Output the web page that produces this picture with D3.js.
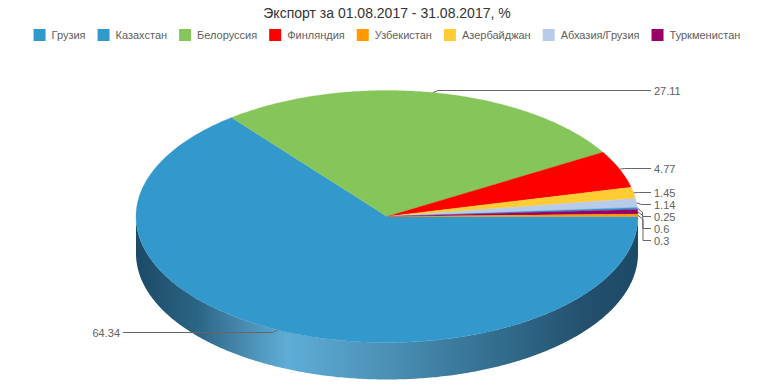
<!DOCTYPE html>
<html lang="ru">
<head>
    <meta charset="UTF-8">
    <script src="https://cdn.jsdelivr.net/npm/d3@7"></script>
    <title>Экспорт</title>
    <style>
        body {
            margin: 0;
            background: #fff;
            font-family: "Liberation Sans", Arial, Helvetica, sans-serif;
        }
        .title { font-size: 14px; fill: #333; }
        .legend text { font-size: 11px; fill: #606060; }
        .lbl { font-size: 11px; fill: #606060; }
        .conn { fill: none; stroke: #666; stroke-width: 1px; }
    </style>
</head>
<body>
    <div id="chart"></div>

    <script>
        const width = 774;
        const height = 387;

        const chartTitle = "Экспорт за 01.08.2017 - 31.08.2017, %";

        // legend order
        const countries = ["Грузия", "Казахстан", "Белоруссия", "Финляндия", "Узбекистан", "Азербайджан", "Абхазия/Грузия", "Туркменистан"];
        const shares = [0.25, 64.34, 27.11, 4.77, 0.3, 1.45, 1.14, 0.6];
        const colors = ["#3399cc", "#3399cc", "#85c55a", "#ff0000", "#ff9900", "#ffcc33", "#b8cbea", "#990066"];
        // order of the slices going clockwise from 3 o'clock
        const sliceOrder = [1, 2, 3, 5, 6, 0, 7, 4];

        const cx = 387, cy = 216.5;
        const rx = 251, ry = 126;
        const depth = 37;

        const svg = d3.select("#chart").append("svg")
            .attr("width", width)
            .attr("height", height);

        svg.append("text")
            .attr("class", "title")
            .attr("x", width / 2)
            .attr("y", 18)
            .attr("text-anchor", "middle")
            .text(chartTitle);

        // legend
        const legend = svg.append("g").attr("class", "legend");
        const items = legend.selectAll("g")
            .data(countries)
            .enter()
            .append("g");
        items.append("rect")
            .attr("width", 12).attr("height", 12)
            .attr("y", 29)
            .attr("fill", (d, i) => colors[i]);
        items.append("text")
            .attr("x", 18)
            .attr("y", 39)
            .text(d => d);
        const gap = 12;
        const widths = [];
        items.each(function () {
            widths.push(18 + d3.select(this).select("text").node().getComputedTextLength());
        });
        const total = d3.sum(widths) + gap * (widths.length - 1);
        let lx = (width - total) / 2;
        items.each(function (d, i) {
            d3.select(this).attr("transform", `translate(${lx},0)`);
            lx += widths[i] + gap;
        });

        // pie geometry on a tilted ellipse
        const pie = d3.pie()
            .sort(null)
            .value(i => shares[i])
            .startAngle(Math.PI / 2)
            .endAngle(Math.PI / 2 + 2 * Math.PI);
        const arcs = pie(sliceOrder);

        const px = a => cx + rx * Math.sin(a);
        const py = a => cy - ry * Math.cos(a);
        const line = d3.line();

        function arcPoints(a0, a1, dy = 0) {
            const n = Math.max(2, Math.ceil(Math.abs(a1 - a0) / 0.01));
            return d3.range(n + 1).map(k => {
                const a = a0 + (a1 - a0) * k / n;
                return [px(a), py(a) + dy];
            });
        }

        const defs = svg.append("defs");
        const grad = defs.append("linearGradient")
            .attr("id", "side")
            .attr("gradientUnits", "userSpaceOnUse")
            .attr("x1", cx - rx).attr("x2", cx + rx)
            .attr("y1", 0).attr("y2", 0);
        [[0, "#1b4a67"], [0.12, "#2b6483"], [0.22, "#4a8db2"], [0.30, "#5eadd7"],
         [0.48, "#4d93b9"], [0.72, "#336d8e"], [0.9, "#244f6d"], [1, "#1b4a67"]]
            .forEach(s => grad.append("stop").attr("offset", s[0]).attr("stop-color", s[1]));

        // outer wall, only the front half is visible
        const sides = svg.append("g");
        arcs.forEach(d => {
            const lo = Math.max(d.startAngle, Math.PI / 2);
            const hi = Math.min(d.endAngle, 3 * Math.PI / 2);
            if (hi <= lo) return;
            const pts = arcPoints(lo, hi).concat(arcPoints(hi, lo, depth));
            sides.append("path")
                .attr("d", line(pts) + "Z")
                .attr("fill", "url(#side)");
        });

        // top faces
        const tops = svg.append("g");
        arcs.forEach(d => {
            const pts = [[cx, cy]].concat(arcPoints(d.startAngle, d.endAngle));
            tops.append("path")
                .attr("d", line(pts) + "Z")
                .attr("fill", colors[d.data])
                .attr("stroke", colors[d.data])
                .attr("stroke-width", 0.3);
        });

        // data labels, pushed a bit outward from the rim
        const labels = arcs.map(d => {
            const mid = (d.startAngle + d.endAngle) / 2;
            const right = Math.sin(mid) > 0;
            return { d, mid, right, ex: px(mid), ey: py(mid), y: cy - (ry + 2.5) * Math.cos(mid) };
        });
        [true, false].forEach(side => {
            const grp = labels.filter(l => l.right === side).sort((a, b) => a.y - b.y);
            for (let k = 1; k < grp.length; k++) {
                grp[k].y = Math.max(grp[k].y, grp[k - 1].y + 12);
            }
        });

        const lab = svg.append("g");
        labels.forEach(l => {
            const s = l.right ? 1 : -1;
            const tx = cx + s * (rx + 16);
            const ly = Math.round(l.y) + 0.5;
            const bx = l.ex + s * 5;
            const dy = Math.max(-4, Math.min(4, ly - l.ey));
            const pts = [[l.ex, l.ey], [bx, l.ey + dy], [bx, ly], [tx - s * 3, ly]];
            lab.append("path")
                .attr("class", "conn")
                .attr("d", line(pts));
            lab.append("text")
                .attr("class", "lbl")
                .attr("x", tx)
                .attr("y", ly + 4)
                .attr("text-anchor", l.right ? "start" : "end")
                .text(shares[l.d.data]);
        });
    </script>
</body>
</html>
